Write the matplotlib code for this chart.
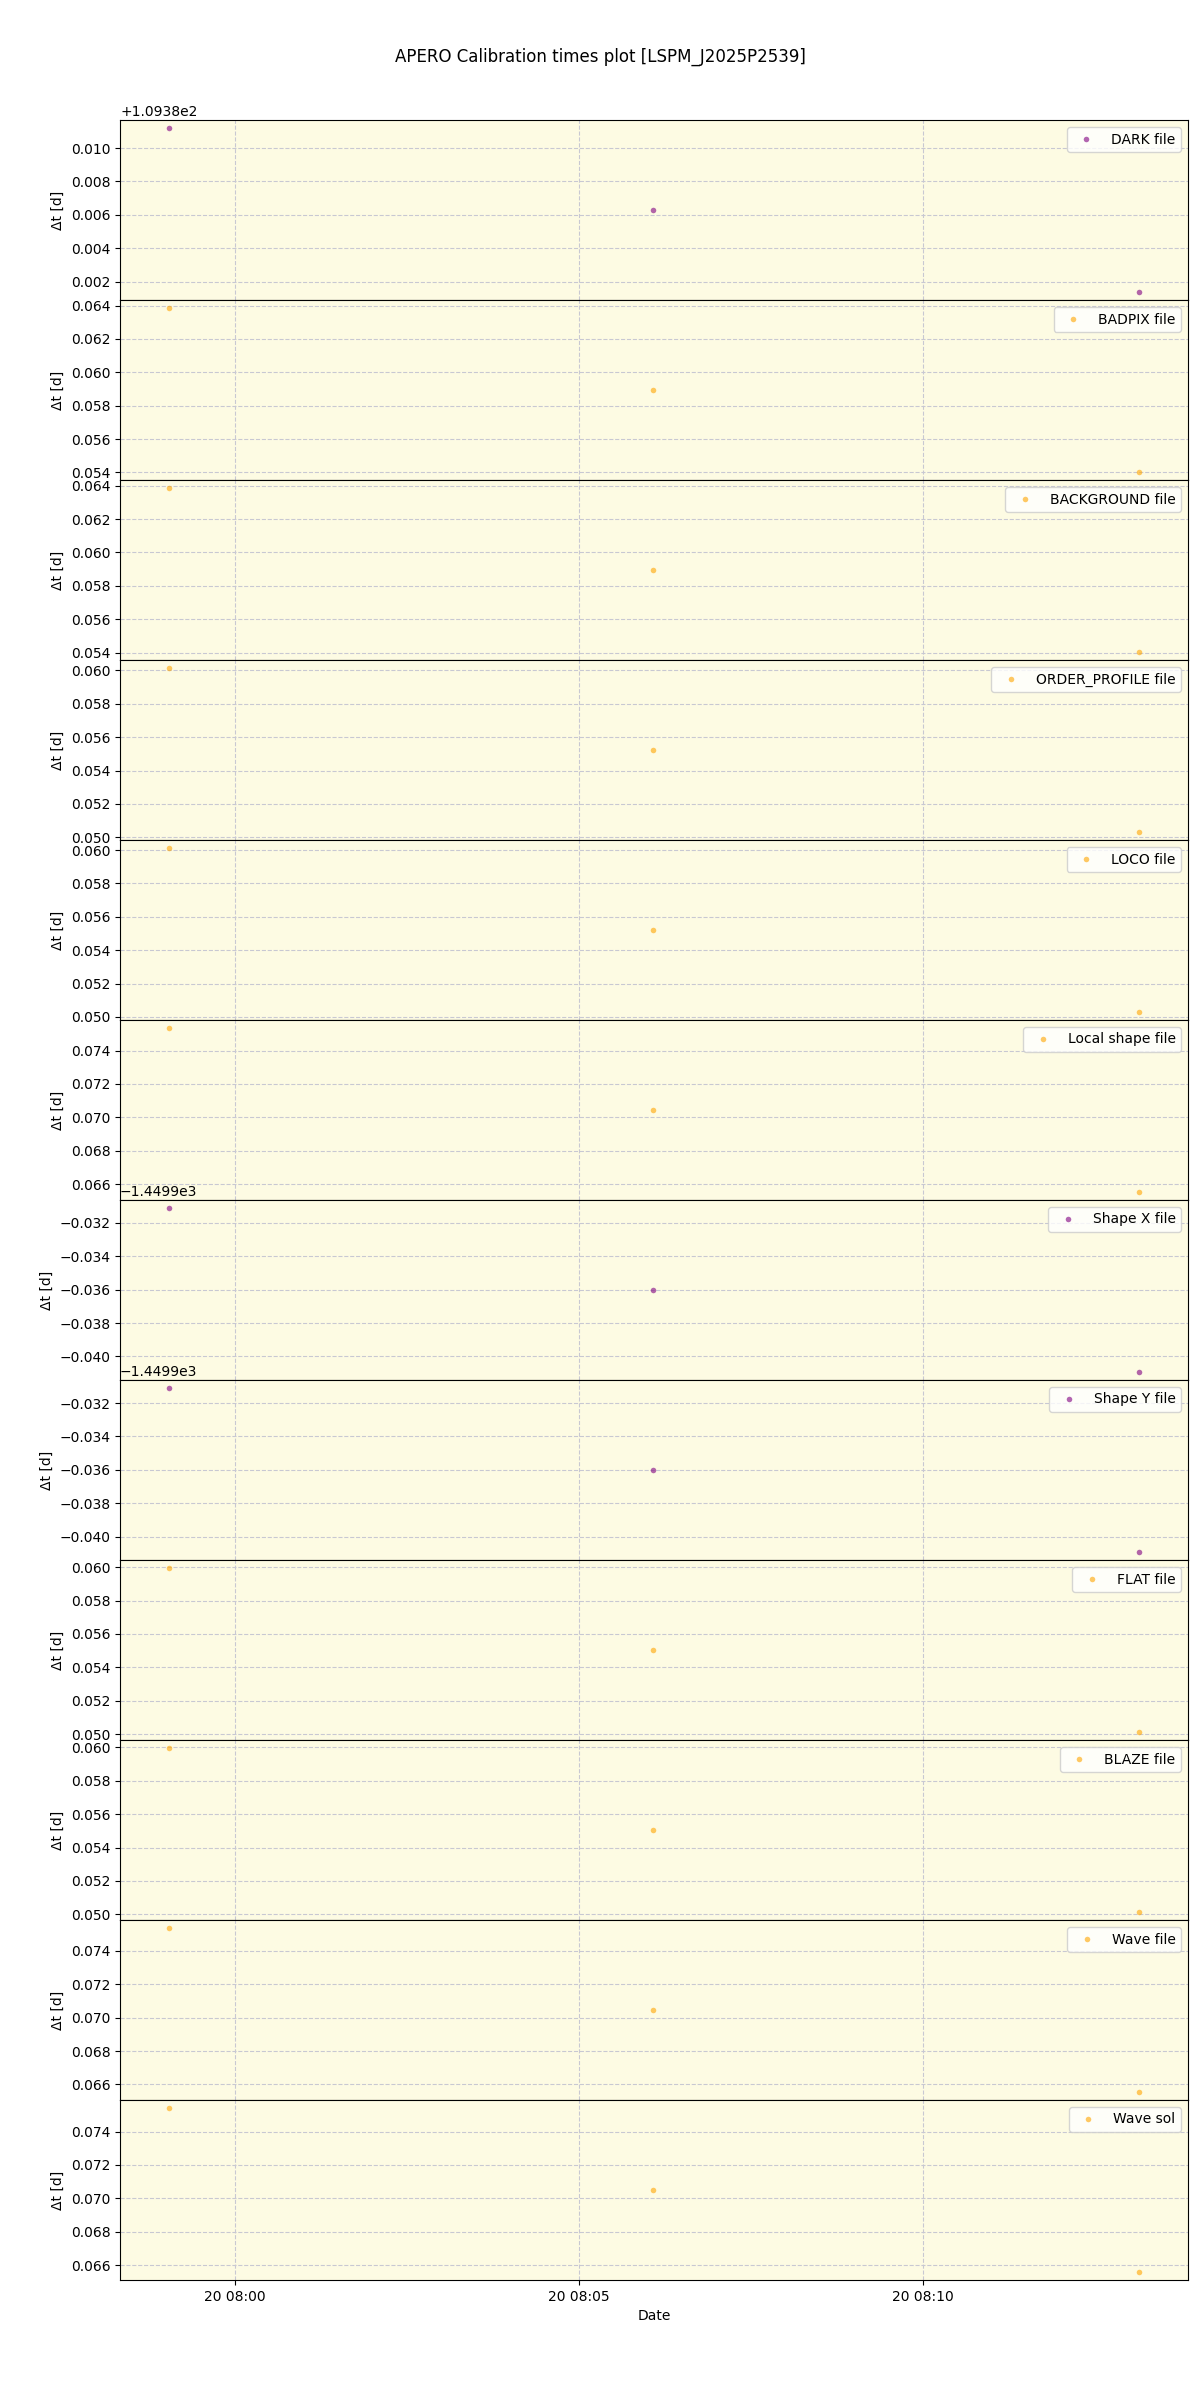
import numpy as np
import pandas as pd
import matplotlib
matplotlib.use("Agg")
import matplotlib.pyplot as plt
import matplotlib.dates as mdates

obs_times = pd.to_datetime(["2025-06-20 07:59:02", "2025-06-20 08:06:05", "2025-06-20 08:13:09"])

labels = ["DARK file", "BADPIX file", "BACKGROUND file", "ORDER_PROFILE file", "LOCO file",
          "Local shape file", "Shape X file", "Shape Y file", "FLAT file", "BLAZE file",
          "Wave file", "Wave sol"]
colors = ["purple", "orange", "orange", "orange", "orange", "orange",
          "purple", "purple", "orange", "orange", "orange", "orange"]

dark = [109.39119, 109.38629, 109.38139]
badpix = [0.06384, 0.05894, 0.05404]
background = [0.06385, 0.05895, 0.05405]
order_profile = [0.06013, 0.05523, 0.05033]
loco = [0.06011, 0.05521, 0.05031]
local_shape = [0.07534, 0.07044, 0.06554]
shape_x = [-1449.93112, -1449.93602, -1449.94092]
shape_y = [-1449.93111, -1449.93601, -1449.94091]
flat = [0.05994, 0.05504, 0.05014]
blaze = [0.05995, 0.05505, 0.05015]
wave_file = [0.07536, 0.07046, 0.06556]
wave_sol = [0.07540, 0.07050, 0.06560]

series = [dark, badpix, background, order_profile, loco, local_shape,
          shape_x, shape_y, flat, blaze, wave_file, wave_sol]

fig, axes = plt.subplots(len(series), 1, figsize=(12, 24), dpi=100, sharex=True)
fig.subplots_adjust(left=0.1, right=0.99, top=0.95, bottom=0.05, hspace=0)

for ax, vals, lab, col in zip(axes, series, labels, colors):
    ax.set_facecolor("#fdfbe3")
    ax.plot(obs_times, vals, linestyle="none", marker="o", ms=4, mew=0,
            color=col, alpha=0.6, label=lab)
    ax.grid(True, linestyle="--", color="#c8c8d2", linewidth=0.8)
    ax.set_axisbelow(True)
    ax.set_ylabel("Δt [d]")
    ax.legend(loc="upper right")

axes[-1].xaxis.set_major_locator(mdates.MinuteLocator(byminute=range(0, 60, 5)))
axes[-1].xaxis.set_major_formatter(mdates.DateFormatter("%d %H:%M"))
axes[-1].set_xlabel("Date")

fig.suptitle("APERO Calibration times plot [LSPM_J2025P2539]")
fig.savefig("out.png")
